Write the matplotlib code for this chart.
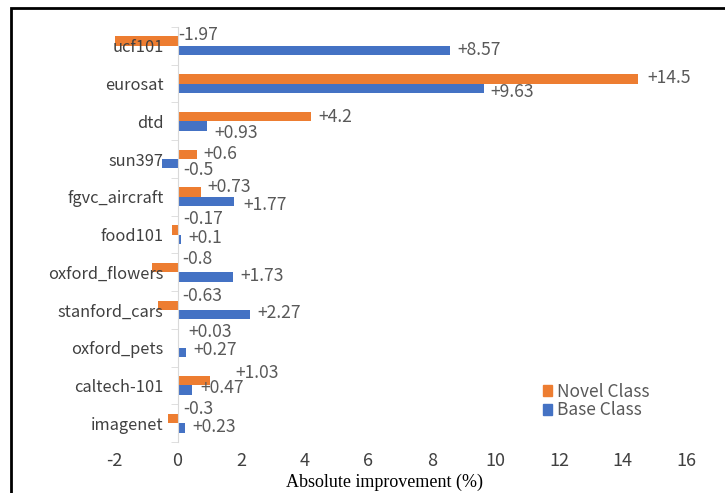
import numpy as np
import matplotlib.pyplot as plt
from matplotlib.patches import Rectangle, Patch

# dataset names, listed bottom to top as they appear on the y axis
datasets = ["imagenet", "caltech-101", "oxford_pets", "stanford_cars", "oxford_flowers",
            "food101", "fgvc_aircraft", "sun397", "dtd", "eurosat", "ucf101"]
novel_gain = [-0.3, 1.03, 0.03, -0.63, -0.8, -0.17, 0.73, 0.6, 4.2, 14.5, -1.97]
base_gain = [0.23, 0.47, 0.27, 2.27, 1.73, 0.1, 1.77, -0.5, 0.93, 9.63, 8.57]
x_ticks = [-2, 0, 2, 4, 6, 8, 10, 12, 14, 16]

# hand nudges (pixels) for the value labels so they don't collide
novel_dx = [6, 25, 10, 5, 5, 6, 7, 7, 7, 9, 1]
novel_dy = [9, 8, 11, 9, 9, 11, 5, 0, 0, 1, 6]
base_dx = [8, 8, 7, 8, 8, 8, 10, 6, 7, 7, 7]
base_dy = [1, 2, 2, 2, 1, 1, -4, -6, -7, -4, 1]

orange = "#ED7D31"
blue = "#4472C4"
label_grey = "#595959"
tick_grey = "#404040"
sans = ["Noto Sans CJK SC", "DejaVu Sans"]
fs = 12.6

fig = plt.figure(figsize=(7.25, 4.93), dpi=100)
ax = fig.add_axes([114 / 725, 1 - 442 / 493, (686 - 114) / 725, (442 - 27) / 493])

# category axis sits on x = 0, like the spreadsheet default
# (set_position resets the ticks, so do it before styling them)
for side in ["top", "right", "bottom"]:
    ax.spines[side].set_visible(False)
ax.spines["left"].set_position(("data", 0))
ax.spines["left"].set_color("#D9D9D9")

y = np.arange(len(datasets))
h = 0.25
ax.barh(y + h / 2, novel_gain, height=h, color=orange, label="Novel Class")
ax.barh(y - h / 2, base_gain, height=h, color=blue, label="Base Class")


def fmt(v):
    return f"{v:+g}"


def put_labels(values, offs_y, dxs, dys):
    for v, yy, dx, dy in zip(values, offs_y, dxs, dys):
        start = v if v > 0 else 0
        ax.annotate(fmt(v), (start, yy), xytext=(dx, dy), textcoords="offset pixels",
                    ha="left", va="center", fontsize=fs, color=label_grey,
                    family=sans, annotation_clip=False)


put_labels(novel_gain, y + h / 2, novel_dx, novel_dy)
put_labels(base_gain, y - h / 2, base_dx, base_dy)

ax.set_xlim(-2, 16)
ax.set_ylim(-0.5, len(datasets) - 0.5)
ax.set_yticks(np.arange(len(datasets) + 1) - 0.5, minor=True)
ax.set_yticks(y)
ax.set_yticklabels(datasets)
ax.set_xticks(x_ticks)
ax.set_xticklabels([str(t) for t in x_ticks])
ax.tick_params(axis="y", which="major", length=0, pad=10, labelsize=11.8,
               labelcolor=tick_grey, labelfontfamily=sans)
ax.tick_params(axis="y", which="minor", length=5, color="#D9D9D9", direction="out")
ax.tick_params(axis="x", length=0, pad=7, labelsize=13, labelcolor=tick_grey,
               labelfontfamily=sans)

fig.text(385 / 725, 1 - 482 / 493, "Absolute improvement (%)", ha="center", va="center",
         family="Liberation Serif", fontsize=13, color="black")

handles = [Patch(color=orange), Patch(color=blue)]
fig.legend(handles, ["Novel Class", "Base Class"], loc="center left",
           bbox_to_anchor=(527 / 725, 1 - 401 / 493), frameon=False,
           prop={"family": sans, "size": 12.5}, labelcolor=label_grey,
           handlelength=0.55, handleheight=0.55, handletextpad=0.3, labelspacing=0.05)

# outer frame, running off the right and bottom edges
fig.add_artist(Rectangle((11 / 725, -0.1), 1.1, 1.1 - 8 / 493, transform=fig.transFigure,
                         fill=False, lw=2, edgecolor="black", clip_on=False))

fig.savefig("out.png", dpi=100)
